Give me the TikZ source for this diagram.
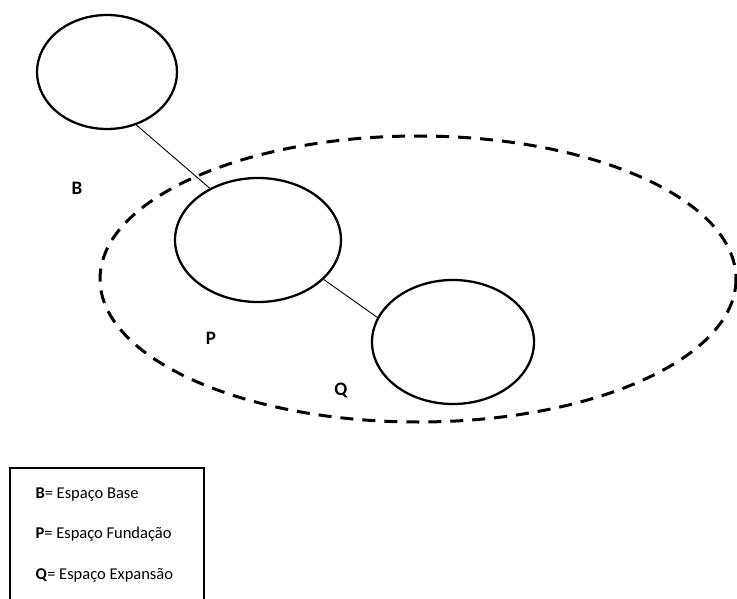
\documentclass[tikz,border=0pt]{standalone}
\usepackage{fontspec}
\setmainfont{Carlito}
\usetikzlibrary{shapes.geometric}

\begin{document}
\begin{tikzpicture}[x=1pt, y=-1pt,
    espaco/.style={draw, ellipse, line width=2.3pt, inner sep=0pt},
    liga/.style={line width=0.9pt},
    letra/.style={font=\fontsize{19}{22}\selectfont\bfseries},
    legenda/.style={anchor=base west, font=\fontsize{16.5}{19}\selectfont}]
  \clip (0,0) rectangle (737,599);
  \coordinate (e) at (418,279);
  \draw [line width=3pt, dash pattern=on 13pt off 9pt] (e) ellipse [x radius=318, y radius=143];
  \node [espaco, minimum width=140pt, minimum height=114pt] (b) at (107,72) {};
  \node [espaco, minimum width=166pt, minimum height=124pt] (p) at (258,240) {};
  \node [espaco, minimum width=162pt, minimum height=124pt] (q) at (453,342) {};
  \draw [liga] (b.-61) -- (p.133);
  \draw [liga] (p.-31) -- (q.162);
  \node [letra] (lb) at (77,188) {B};
  \node [letra] (lp) at (211,338) {P};
  \node [letra] (lq) at (341,390) {Q};
  \draw [line width=2pt] (10,620) -- (10,468) -- (204,468) -- (204,620);
  \node [legenda] (t1) at (32,498) {\textbf{B}= Espaço Base};
  \node [legenda] (t2) at (32,538) {\textbf{P}= Espaço Fundação};
  \node [legenda] (t3) at (32,579) {\textbf{Q}= Espaço Expansão};
\end{tikzpicture}
\end{document}
